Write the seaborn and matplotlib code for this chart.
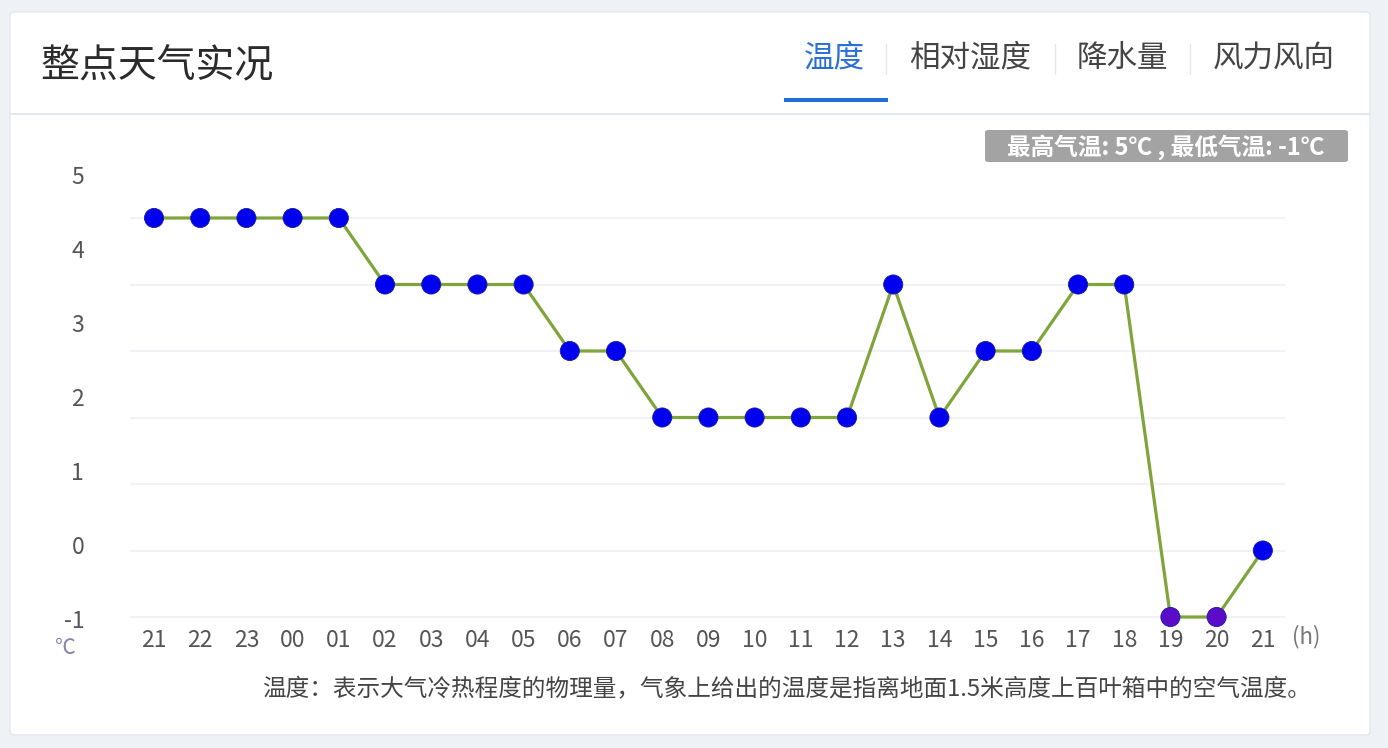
import numpy as np
import pandas as pd
import matplotlib.pyplot as plt
import seaborn as sns
from matplotlib.patches import FancyBboxPatch, Rectangle
from matplotlib.lines import Line2D

# hourly temperature data
hours = ["21", "22", "23", "00", "01", "02", "03", "04", "05", "06", "07", "08",
         "09", "10", "11", "12", "13", "14", "15", "16", "17", "18", "19", "20", "21"]
temps = [5, 5, 5, 5, 5, 4, 4, 4, 4, 3, 3, 2, 2, 2, 2, 2, 4, 2, 3, 3, 4, 4, -1, -1, 0]
grid_values = [-1, 0, 1, 2, 3, 4, 5]
y_labels = ["-1", "0", "1", "2", "3", "4", "5"]
tabs = ["温度", "相对湿度", "降水量", "风力风向"]

df = pd.DataFrame({"pos": np.arange(len(hours)), "hour": hours, "temp": temps})
df["below"] = df["temp"] < 0

sns.set_theme(style="white")
plt.rcParams['font.family'] = ['Noto Sans CJK SC', 'DejaVu Sans']

W, H = 1388, 748
fig = plt.figure(figsize=(W / 100, H / 100), dpi=100)
fig.patch.set_facecolor("#eef1f6")

def fx(px):
    return px / W

def fy(py):
    return 1 - py / H

# cards (kept behind the axes)
fig.patches.append(FancyBboxPatch((fx(10), fy(735)), fx(1360), (735 - 12) / H,
                                  boxstyle="round,pad=0,rounding_size=0.004",
                                  transform=fig.transFigure, fc="white", ec="#e4e8ef", lw=1,
                                  zorder=-10))
fig.add_artist(Line2D([fx(10), fx(1370)], [fy(114), fy(114)], color="#e3e7ee", lw=1.5,
                      transform=fig.transFigure, zorder=-5))

# header
fig.text(fx(40), fy(66), "整点天气实况", fontsize=28, color="#2b2b2b", va="center", ha="left")
tab_x = [834, 970, 1122, 1274]
for i, (t, x) in enumerate(zip(tabs, tab_x)):
    fig.text(fx(x), fy(58), t, fontsize=22, va="center", ha="center",
             color="#2a6fd6" if i == 0 else "#444444")
for x in [886, 1055, 1190]:
    fig.add_artist(Line2D([fx(x), fx(x)], [fy(44), fy(74)], color="#e6e6e6", lw=1,
                          transform=fig.transFigure))
fig.patches.append(Rectangle((fx(784), fy(102)), fx(104), 4 / H, transform=fig.transFigure,
                             fc="#1f6fd9", ec="none"))

# max/min badge
fig.patches.append(FancyBboxPatch((fx(985), fy(162)), fx(363), 32 / H,
                                  boxstyle="round,pad=0,rounding_size=0.003",
                                  transform=fig.transFigure, fc="#a3a3a3", ec="none"))
fig.text(fx(1166), fy(147), "最高气温: 5℃ , 最低气温: -1℃", fontsize=17, fontweight="bold",
         color="white", va="center", ha="center")

# main axes
ylo, yhi = -1.1, 5.8
px_per = 66.5
bottom_px = 617 + (-1 - ylo) * px_per
top_px = 218 - (yhi - 5) * px_per
ax = fig.add_axes([fx(130), fy(bottom_px), fx(1285 - 130), (bottom_px - top_px) / H])
ax.set_facecolor("none")
ax.set_xlim(-0.52, 24.48)
ax.set_ylim(ylo, yhi)
for s in ax.spines.values():
    s.set_visible(False)

ax.hlines(grid_values, -0.52, 24.48, color="#f0f2f6", lw=1.5, zorder=0)

sns.lineplot(data=df, x="pos", y="temp", ax=ax, color="#7fa53a", lw=2.3, zorder=2)
sns.scatterplot(data=df, x="pos", y="temp", hue="below",
                palette={False: "#0000f0", True: "#5a0cc8"}, s=190,
                edgecolor="#1a1aa0", linewidth=0.6, legend=False, ax=ax, zorder=3, clip_on=False)

ax.set_xticks(df["pos"])
ax.set_xticklabels(hours)
# y labels sit a bit above their gridlines, as in the original widget
label_pos = [v + 0.03 + 0.112 * (v + 1) - 0.06 for v in grid_values]
ax.set_yticks(label_pos)
ax.set_yticklabels(y_labels)
ax.tick_params(axis="x", length=0, pad=4, labelsize=16.5, labelcolor="#555555")
ax.tick_params(axis="y", length=0, pad=33, labelsize=16.5, labelcolor="#555555")
ax.set_xlabel("")
ax.set_ylabel("")

fig.text(fx(65), fy(648), "℃", fontsize=15, color="#8a84a8", ha="center", va="center")
fig.text(fx(1306), fy(637), "(h)", fontsize=16, color="#777777", ha="center", va="center")

fig.text(fx(262), fy(690), "温度：表示大气冷热程度的物理量，气象上给出的温度是指离地面1.5米高度上百叶箱中的空气温度。",
         fontsize=17, color="#444444", ha="left", va="center")

fig.savefig("out.png", dpi=100, facecolor=fig.get_facecolor())
